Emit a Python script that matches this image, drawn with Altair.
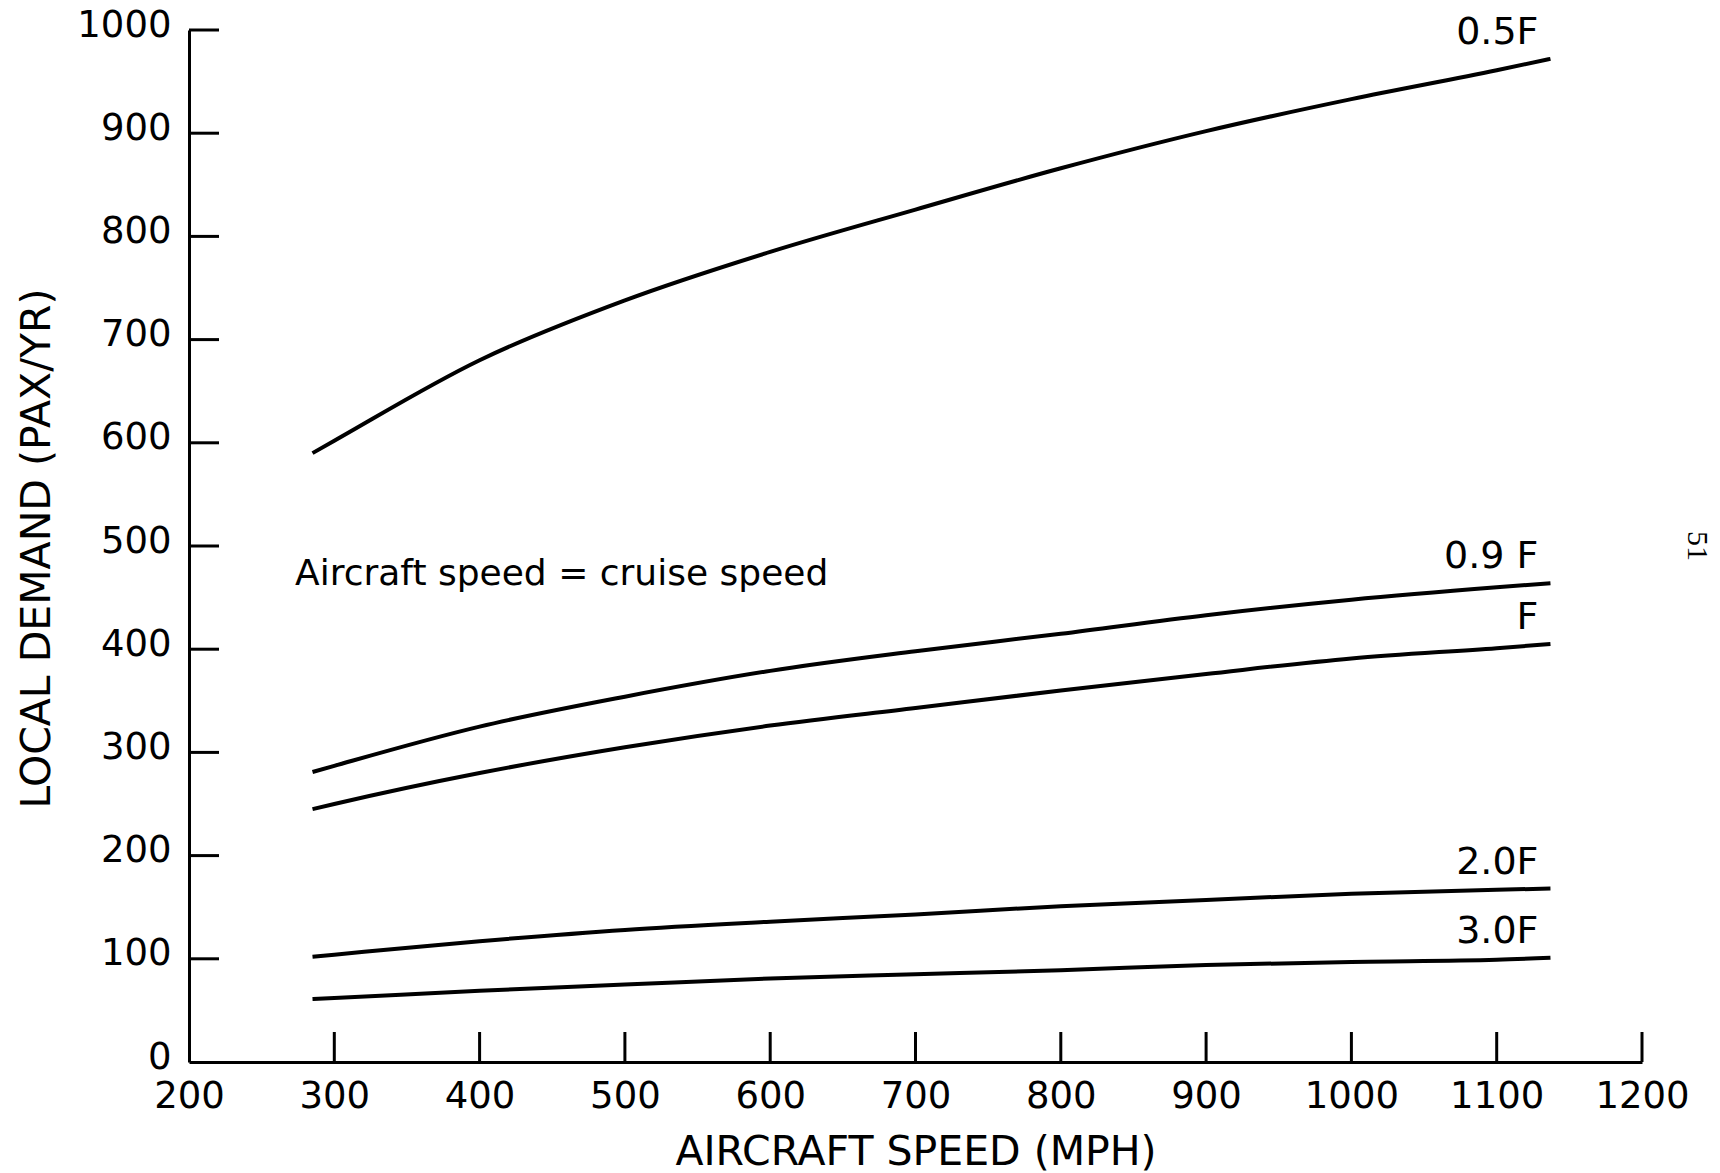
import altair as alt
import pandas as pd

# ---- data ----
speeds = [285, 300, 400, 500, 600, 700, 800, 900, 1000, 1100, 1137]
series_names = ["0.5F", "0.9 F", "F", "2.0F", "3.0F"]
demand_05F = [590, 602, 680, 738, 785, 826, 866, 902, 933, 961, 972]
demand_09F = [281, 287, 325, 354, 379, 398, 415, 433, 448, 460, 464]
demand_F = [245, 250, 280, 305, 326, 343, 360, 376, 391, 401, 405]
demand_20F = [102, 104, 117, 128, 136, 143, 151, 157, 163, 167, 168]
demand_30F = [61, 62, 69, 75, 81, 85, 89, 94, 97, 99, 101]

x_ticks = [300, 400, 500, 600, 700, 800, 900, 1000, 1100, 1200]
y_ticks = [100, 200, 300, 400, 500, 600, 700, 800, 900, 1000]
x_labels = [200, 300, 400, 500, 600, 700, 800, 900, 1000, 1100, 1200]
y_labels = [0, 100, 200, 300, 400, 500, 600, 700, 800, 900, 1000]

note_text = "Aircraft speed = cruise speed"
note_x, note_y = 273, 462
page_number = "51"

W, H = 1453, 1032
FONT = "DejaVu Sans"

all_series = [demand_05F, demand_09F, demand_F, demand_20F, demand_30F]
rows = []
for name, vals in zip(series_names, all_series):
    for s, v in zip(speeds, vals):
        rows.append({"series": name, "speed": s, "demand": v})
df = pd.DataFrame(rows)
ends = df.groupby("series", sort=False).tail(1)

xscale = alt.Scale(domain=[200, 1200], nice=False, zero=False)
yscale = alt.Scale(domain=[0, 1000], nice=False)

x_axis = alt.Axis(
    values=x_labels, format="d", ticks=False, tickSize=0, grid=False,
    domainColor="black", domainWidth=3, labelFlush=False, labelOverlap=False,
    labelFont=FONT, labelFontSize=37, labelColor="black", labelPadding=16,
    title="AIRCRAFT SPEED (MPH)", titleFont=FONT, titleFontSize=41,
    titleFontWeight="normal", titleColor="black",
    titleBaseline="alphabetic", titleY=102)
y_axis = alt.Axis(
    values=y_labels, format="d", ticks=False, tickSize=0, grid=False,
    domainColor="black", domainWidth=3, labelFlush=False, labelOverlap=False,
    labelFont=FONT, labelFontSize=37, labelColor="black", labelPadding=18,
    labelOffset=-5,
    title="LOCAL DEMAND (PAX/YR)", titleFont=FONT, titleFontSize=41,
    titleFontWeight="normal", titleColor="black",
    titleBaseline="alphabetic", titleX=-140, titleY=H / 2 + 2, titleAngle=-90)

lines = alt.Chart(df).mark_line(color="black", strokeWidth=4, interpolate="monotone").encode(
    x=alt.X("speed:Q", scale=xscale, axis=x_axis),
    y=alt.Y("demand:Q", scale=yscale, axis=y_axis),
    detail="series:N",
)

labels = alt.Chart(ends).mark_text(
    align="right", baseline="alphabetic", dx=-12, dy=-15,
    font=FONT, fontSize=38, color="black",
).encode(
    x=alt.X("speed:Q", scale=xscale, axis=x_axis),
    y=alt.Y("demand:Q", scale=yscale, axis=y_axis),
    text="series:N",
)

ytick_rules = alt.Chart(pd.DataFrame({"v": y_ticks})).mark_rule(color="black", strokeWidth=3).encode(
    y=alt.Y("v:Q", scale=yscale, axis=y_axis),
    x=alt.value(0), x2=alt.value(30),
)
xtick_rules = alt.Chart(pd.DataFrame({"v": x_ticks})).mark_rule(color="black", strokeWidth=3).encode(
    x=alt.X("v:Q", scale=xscale, axis=x_axis),
    y=alt.value(H), y2=alt.value(H - 30),
)

note = alt.Chart(pd.DataFrame({"t": [note_text], "x": [note_x], "y": [note_y]})).mark_text(
    align="left", baseline="alphabetic", font=FONT, fontSize=36, color="black",
).encode(
    x=alt.X("x:Q", scale=xscale, axis=x_axis),
    y=alt.Y("y:Q", scale=yscale, axis=y_axis),
    text="t:N",
)

page = alt.Chart(pd.DataFrame({"t": [page_number], "y": [500]})).mark_text(
    align="center", baseline="middle", angle=90, font="Liberation Serif", fontSize=30, color="black",
).encode(
    x=alt.value(1508),
    y=alt.Y("y:Q", scale=yscale, axis=y_axis),
    text="t:N",
)

chart = alt.layer(lines, labels, ytick_rules, xtick_rules, note, page).properties(
    width=W, height=H,
    autosize=alt.AutoSizeParams(type="none"),
    padding={"left": 189, "top": 30, "right": 78, "bottom": 111},
    background="white",
).configure_view(stroke=None)

chart.save("out.html", embed_options={"renderer": "svg", "actions": False})
